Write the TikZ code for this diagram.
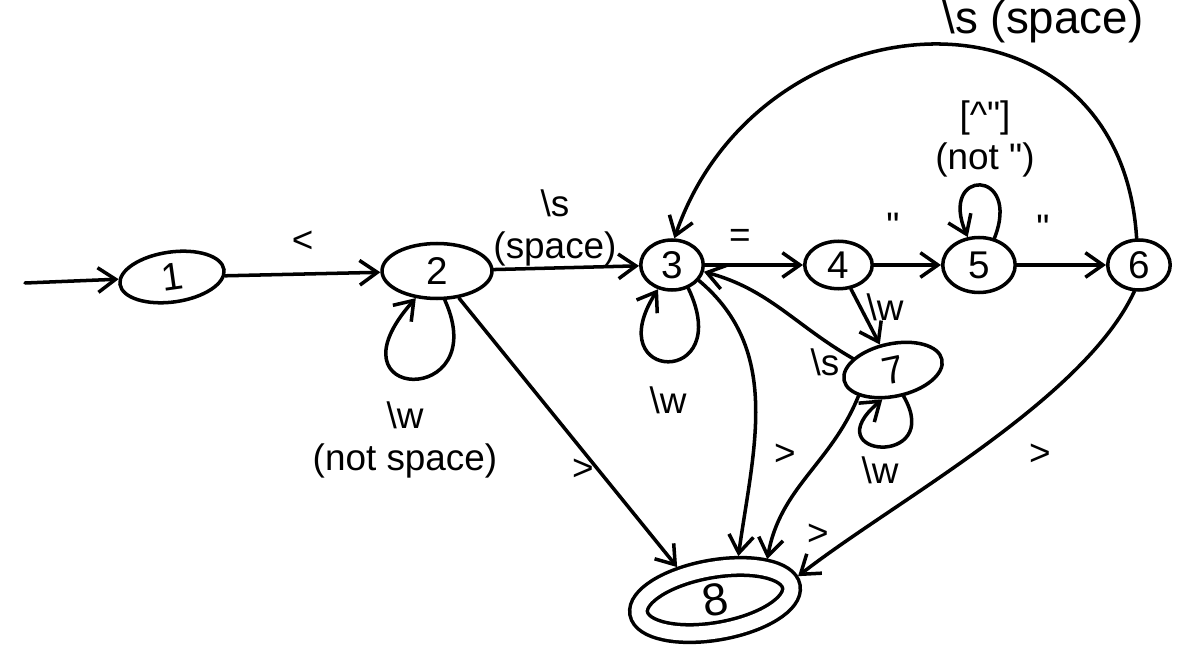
\documentclass[tikz,border=0pt]{standalone}
\usepackage{fontspec}
\setmainfont{Liberation Sans}
\usetikzlibrary{positioning,shapes.geometric,arrows.meta,calc}

\begin{document}
\begin{tikzpicture}[
  x=0.02cm, y=0.02cm,
  every node/.style={font=\fontsize{21}{24}\selectfont},
  state/.style={ellipse, draw, line width=2pt, inner sep=0pt, font=\fontsize{22}{24}\selectfont},
  accept/.style={state, double, double distance=8pt, outer sep=6pt},
  trans/.style={-{Straight Barb[length=10pt,width=14pt]}, line width=2pt, line cap=round, line join=round},
  lbl/.style={align=center, inner sep=1pt}
]
  \useasboundingbox (0,0) rectangle (1179,653);

  \node[state, minimum width=2.1cm, minimum height=1.0cm, rotate=8] (s1) at (172,376) {1};
  \node[state, minimum width=2.2cm, minimum height=1.1cm] (s2) at (437,382) {2};
  \node[state, minimum width=1.25cm, minimum height=1.0cm] (s3) at (672,388) {3};
  \node[state, minimum width=1.35cm, minimum height=0.95cm, right=1.96cm of s3] (s4) {4};
  \node[state, minimum width=1.45cm, minimum height=1.1cm, right=1.34cm of s4] (s5) {5};
  \node[state, minimum width=1.25cm, minimum height=1.0cm, right=1.78cm of s5] (s6) {6};
  \node[state, minimum width=2.0cm, minimum height=1.05cm, rotate=12] (s7) at (893,283) {7};
  \node[accept, minimum width=3.1cm, minimum height=1.25cm, rotate=10, font=\fontsize{26}{28}\selectfont] (s8) at (715,53) {8};
  \coordinate (start) at (25,370);

  \draw[trans] (start) -- (s1);
  \draw[trans] (s1) -- node[lbl, above=10pt] (l12) {<} (s2);
  \draw[trans] (s2) -- (s3);
  \draw[trans] (s3) -- (s4);
  \draw[trans] (s4) -- (s5);
  \draw[trans] (s5) -- (s6);
  \draw[trans] (s4) -- (s7);
  \draw[trans] (s7.152) to[out=150,in=-15] (s3.-12);
  \draw[trans] (s2) -- (s8.129);
  \draw[trans] (s3.-30) to[out=-40,in=82] (s8.52);
  \draw[trans] (s7.205) to[out=-112,in=80] (s8.28);
  \draw[trans] (s6.-100) to[out=-115,in=38,looseness=0.7] (s8.6);
  \draw[trans] (s6.95) .. controls (1120,683) and (760,663) .. (s3.85);

  \draw[trans] (s2.-75) .. controls (494,245) and (322,250) .. (s2.-128);
  \draw[trans] (s3.-55) .. controls (736,265) and (598,270) .. (s3.-120);
  \draw[trans] (s5.60) .. controls (1022,485) and (938,485) .. (s5.112);
  \draw[trans] (s7.-80) .. controls (945,185) and (812,195) .. (s7.-122);

  \node[lbl] (l23) at (555,425) {\textbackslash s\\(space)};
  \node[lbl] (l22) at (405,213) {\textbackslash w\\(not space)};
  \node[lbl] (l28) at (583,183) {>};
  \node[lbl] (l33) at (668,253) {\textbackslash w};
  \node[lbl] (l34) at (740,415) {=};
  \node[lbl] (l45) at (893,427) {\textquotedbl};
  \node[lbl] (l56) at (1043,425) {\textquotedbl};
  \node[lbl] (l55) at (985,514) {[\textasciicircum\textquotedbl]\\(not \textquotedbl)};
  \node[lbl, font=\fontsize{26}{28}\selectfont] (l63) at (1043,631) {\textbackslash s (space)};
  \node[lbl] (l47) at (885,346) {\textbackslash w};
  \node[lbl] (l73) at (825,291) {\textbackslash s};
  \node[lbl] (l38) at (785,198) {>};
  \node[lbl] (l77) at (880,183) {\textbackslash w};
  \node[lbl] (l78) at (818,118) {>};
  \node[lbl] (l68) at (1040,198) {>};
\end{tikzpicture}
\end{document}
